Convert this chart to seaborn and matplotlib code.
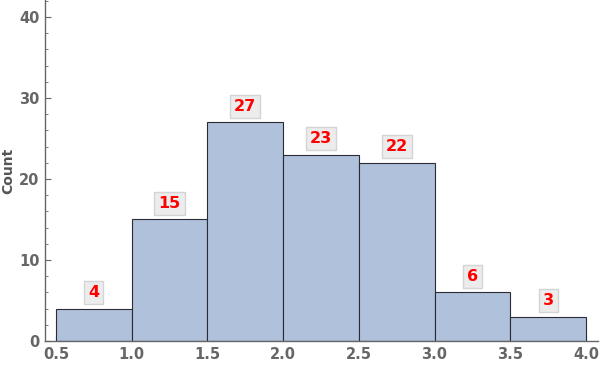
import matplotlib
matplotlib.use("Agg")
import matplotlib.pyplot as plt
import seaborn as sns
import numpy as np
from matplotlib.ticker import MultipleLocator

bin_edges = [0.5, 1.0, 1.5, 2.0, 2.5, 3.0, 3.5, 4.0]
counts = [4, 15, 27, 23, 22, 6, 3]
centers = [(a + b) / 2 for a, b in zip(bin_edges[:-1], bin_edges[1:])]

sns.set_theme(style="white")
plt.rcParams['font.family'] = ['DejaVu Sans']

fig = plt.figure(figsize=(6, 3.86), dpi=100)
ax = fig.add_axes([0.075, 0.1166, 0.9217, 0.8834])

sns.histplot(x=centers, weights=counts, bins=bin_edges, ax=ax,
             color="#b0c1dc", edgecolor="#2b2b35", linewidth=0.8, alpha=1.0)

for c, v in zip(centers, counts):
    ax.text(c, v + 2, str(v), ha="center", va="center", color="red",
            fontsize=11.5, fontweight="bold",
            bbox=dict(boxstyle="square,pad=0.25", facecolor="#ececec",
                      edgecolor="#d4d4d4", linewidth=1))

ax.set_xlim(0.427, 4.08)
ax.set_ylim(0, 42.1)
ax.set_xticks(bin_edges)
ax.set_xticklabels([f"{e:.1f}" for e in bin_edges])
ax.xaxis.set_minor_locator(MultipleLocator(0.1))
ax.yaxis.set_major_locator(MultipleLocator(10))
ax.yaxis.set_minor_locator(MultipleLocator(2))

for s in ["top", "right"]:
    ax.spines[s].set_visible(False)
for s in ["left", "bottom"]:
    ax.spines[s].set_color("#666666")
    ax.spines[s].set_linewidth(1.0)

ax.tick_params(which="both", direction="in", color="#666666",
               bottom=True, left=True, top=False, right=False)
ax.tick_params(which="major", length=4, width=0.8, labelsize=10.5, labelcolor="#666666")
ax.tick_params(which="minor", length=2, width=0.6)
ax.tick_params(axis="x", which="major", pad=4)
ax.tick_params(axis="y", which="major", pad=4)
for lbl in ax.get_xticklabels() + ax.get_yticklabels():
    lbl.set_fontweight("bold")

ax.set_ylabel("Count", fontsize=10, fontweight="bold", color="#555555", labelpad=3)
ax.set_xlabel("")

fig.savefig("out.png", dpi=100)
